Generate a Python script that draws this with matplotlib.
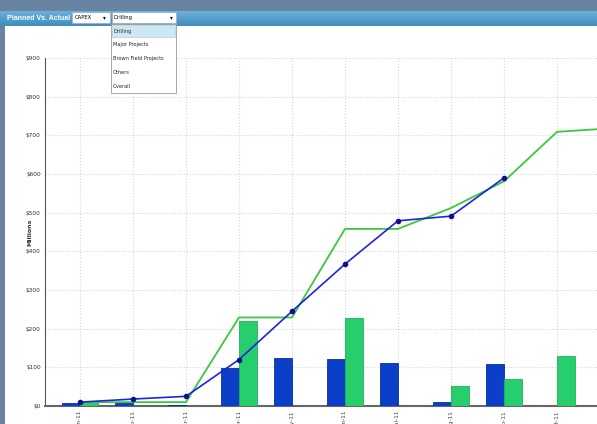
import numpy as np
import matplotlib.pyplot as plt
from matplotlib.patches import Rectangle
from matplotlib.colors import LinearSegmentedColormap

# monthly values (millions)
months = ['Jan-11', 'Feb-11', 'Mar-11', 'Apr-11', 'May-11', 'Jun-11',
          'Jul-11', 'Aug-11', 'Sep-11', 'Oct-11', 'Nov-11', 'Dec-11']
actual = [9, 7, 3, 98, 125, 121, 110, 11, 109, 0]
planned = [10, 0, 0, 220, 0, 227, 0, 53, 69, 130, 0, 0]
actual_cum = [10, 18, 25, 120, 245, 367, 479, 491, 590]
planned_cum = [10, 10, 10, 229, 229, 458, 458, 512, 581, 709, 718, 718]
yticks = [0, 100, 200, 300, 400, 500, 600, 700, 800, 900]

W, H = 597, 424
fig = plt.figure(figsize=(W / 100, H / 100), dpi=100)
fig.patch.set_facecolor('#6984a2')

def box(x, y, w, h, **kw):
    # pixel coords from top-left
    r = Rectangle((x / W, 1 - (y + h) / H), w / W, h / H, transform=fig.transFigure, **kw)
    fig.patches.append(r)
    return r

def label(x, y, s, **kw):
    fig.text(x / W, 1 - y / H, s, **kw)

# white panel
box(5, 26, 592, 398, facecolor='white', edgecolor='none', zorder=0)

# header bar with gradient
hax = fig.add_axes([0, 1 - 26 / H, 1, 15 / H], zorder=2)
grad = np.linspace(0, 1, 50).reshape(-1, 1)
hax.imshow(grad, aspect='auto', cmap=LinearSegmentedColormap.from_list('hdr', ['#6cb0da', '#3e8dbe']),
           extent=[0, 1, 0, 1])
hax.axis('off')

# chart
ax = fig.add_axes([45 / W, (H - 406) / H, (W - 45) / W, 348 / H], zorder=1)
ax.set_facecolor('white')
x = np.arange(len(months))
w = 0.34
ax.bar(x[:len(actual)] - w / 2, actual, width=w, color='#0b3fc8', edgecolor='#08309c', linewidth=0.6, zorder=3)
ax.bar(x[:len(planned)] + w / 2, planned, width=w, color='#27cf6c', edgecolor='#1fb05a', linewidth=0.6, zorder=3)
ax.plot(x[:len(planned_cum)], planned_cum, color='#3cc83c', lw=1.3, zorder=4)
ax.plot(x[:len(actual_cum)], actual_cum, color='#2222e0', lw=1.2, marker='o', ms=3,
        mfc='#10108a', mec='#10108a', zorder=5)

ax.set_yticks(yticks)
ax.set_yticklabels(['$%d' % v for v in yticks], fontsize=4.2, color='#333333')
ax.set_xticks(x)
ax.set_xticklabels(months, rotation=90, fontsize=4.2, color='#444444', va='top')
ax.set_xlim(-0.66, (W - 80) / 53)
ax.set_ylim(0, 900)
ax.tick_params(length=0, pad=3)
ax.grid(True, color='#d4d4d4', linestyle=':', linewidth=0.8, zorder=0)
ax.set_axisbelow(True)
for s in ['top', 'right']:
    ax.spines[s].set_visible(False)
ax.spines['left'].set_color('#555555')
ax.spines['bottom'].set_color('#666666')
ax.spines['bottom'].set_linewidth(1.5)
label(30, 232, 'Millions', fontsize=4.5, fontweight='bold', color='#333333', rotation=90,
      ha='center', va='center')

# header controls
label(7, 18.5, 'Planned Vs. Actual', color='white', fontsize=5.0, fontweight='bold',
      va='center', family='Liberation Sans', zorder=6)
box(72, 12, 38, 11, facecolor='white', edgecolor='#9ab', linewidth=0.5, zorder=6)
label(75, 17.5, 'CAPEX', fontsize=3.8, va='center', zorder=7)
label(104, 17.5, '\u25be', fontsize=4, va='center', ha='center', zorder=7)
box(112, 12, 64, 11, facecolor='white', edgecolor='#9ab', linewidth=0.5, zorder=6)
label(114, 17.5, 'Drilling', fontsize=3.8, va='center', zorder=7)
label(171, 17.5, '\u25be', fontsize=4, va='center', ha='center', zorder=7)

# dropdown list
box(111, 24, 65, 69, facecolor='white', edgecolor='#999999', linewidth=0.6, zorder=8)
box(112, 25, 63, 12, facecolor='#cde8f2', edgecolor='#9cc9da', linewidth=0.4, zorder=9)
items = ['Drilling', 'Major Projects', 'Brown Field Projects', 'Others', 'Overall']
for i, it in enumerate(items):
    label(113, 31 + i * 13.8, it, fontsize=3.6, va='center', color='#222222', zorder=10)

fig.savefig('out.png', dpi=100, facecolor=fig.get_facecolor())
